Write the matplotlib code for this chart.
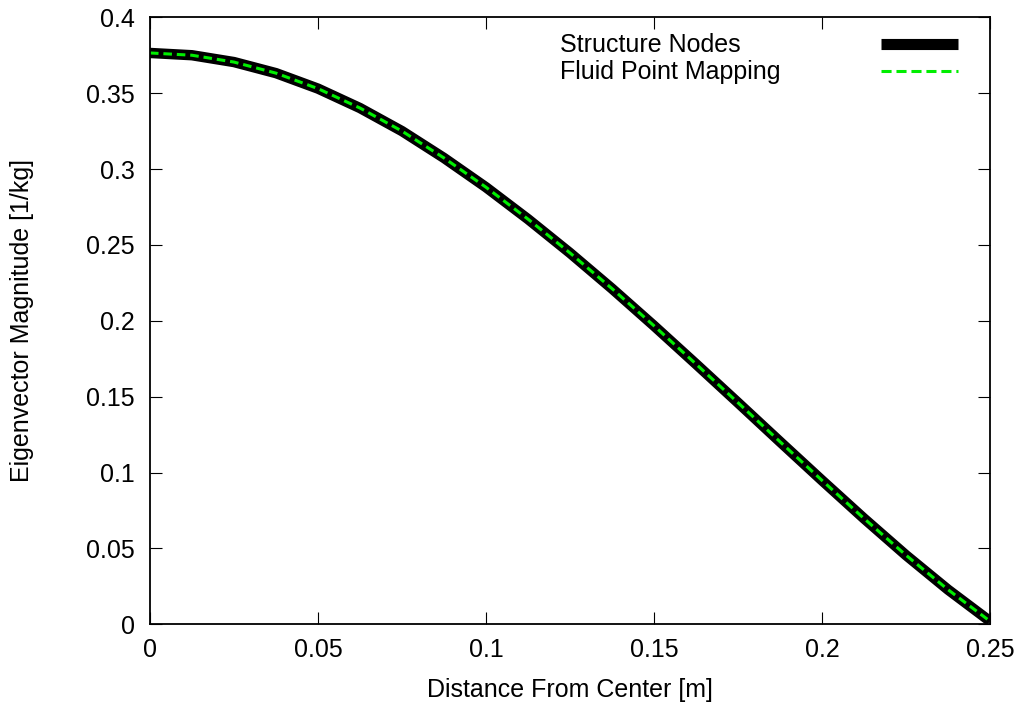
import matplotlib
matplotlib.use("Agg")
import matplotlib.pyplot as plt

plt.rcParams["font.family"] = ["Liberation Sans", "DejaVu Sans"]

# values
distance = [0.0, 0.0125, 0.025, 0.0375, 0.05, 0.0625, 0.075, 0.0875, 0.1,
            0.1125, 0.125, 0.1375, 0.15, 0.1625, 0.175, 0.1875, 0.2,
            0.2125, 0.225, 0.2375, 0.25]
structure_nodes = [0.3765, 0.3750, 0.3705, 0.3632, 0.3530, 0.3402, 0.3250,
                   0.3073, 0.2880, 0.2670, 0.2447, 0.2212, 0.1967, 0.1715,
                   0.1460, 0.1203, 0.0948, 0.0697, 0.0455, 0.0228, 0.0020]
fluid_mapping = structure_nodes
x_ticks = [0, 0.05, 0.1, 0.15, 0.2, 0.25]
x_labels = ["0", "0.05", "0.1", "0.15", "0.2", "0.25"]
y_ticks = [0, 0.05, 0.1, 0.15, 0.2, 0.25, 0.3, 0.35, 0.4]
y_labels = ["0", "0.05", "0.1", "0.15", "0.2", "0.25", "0.3", "0.35", "0.4"]

green = "#00ee00"
fs = 18

fig = plt.figure(figsize=(10.25, 7.09), dpi=100)
ax = fig.add_axes([0.1463, 0.1195, 0.8196, 0.8561])

ax.plot(distance, structure_nodes, color="black", linewidth=7.5,
        solid_capstyle="butt", solid_joinstyle="round")
ax.plot(distance, fluid_mapping, color=green, linewidth=2.2,
        dashes=(2.8, 1.6))

ax.set_xlim(0, 0.25)
ax.set_ylim(0, 0.4)
ax.set_xticks(x_ticks)
ax.set_xticklabels(x_labels)
ax.set_yticks(y_ticks)
ax.set_yticklabels(y_labels)
ax.tick_params(direction="in", length=8.5, width=0.8, top=True, right=True,
               labelsize=fs)
ax.tick_params(axis="x", pad=10)
ax.tick_params(axis="y", pad=11)
for s in ax.spines.values():
    s.set_linewidth(1.3)

ax.set_xlabel("Distance From Center [m]", fontsize=fs)
ax.set_ylabel("Eigenvector Magnitude [1/kg]", fontsize=fs)
ax.xaxis.set_label_coords(0.5, -0.108)
ax.yaxis.set_label_coords(-0.152, 0.5)
ax.xaxis.label.set_va("center")
ax.yaxis.label.set_va("center")

# gnuplot-style key: text on the left, sample on the right
ax.text(0.488, 0.954, "Structure Nodes", transform=ax.transAxes,
        fontsize=fs, va="center", ha="left")
ax.text(0.488, 0.910, "Fluid Point Mapping", transform=ax.transAxes,
        fontsize=fs, va="center", ha="left")
ax.plot([0.870, 0.962], [0.956, 0.956], transform=ax.transAxes,
        color="black", linewidth=8, solid_capstyle="butt")
ax.plot([0.870, 0.962], [0.912, 0.912], transform=ax.transAxes,
        color=green, linewidth=2.2, dashes=(3.3, 1.6))

fig.savefig("out.png", dpi=100)
